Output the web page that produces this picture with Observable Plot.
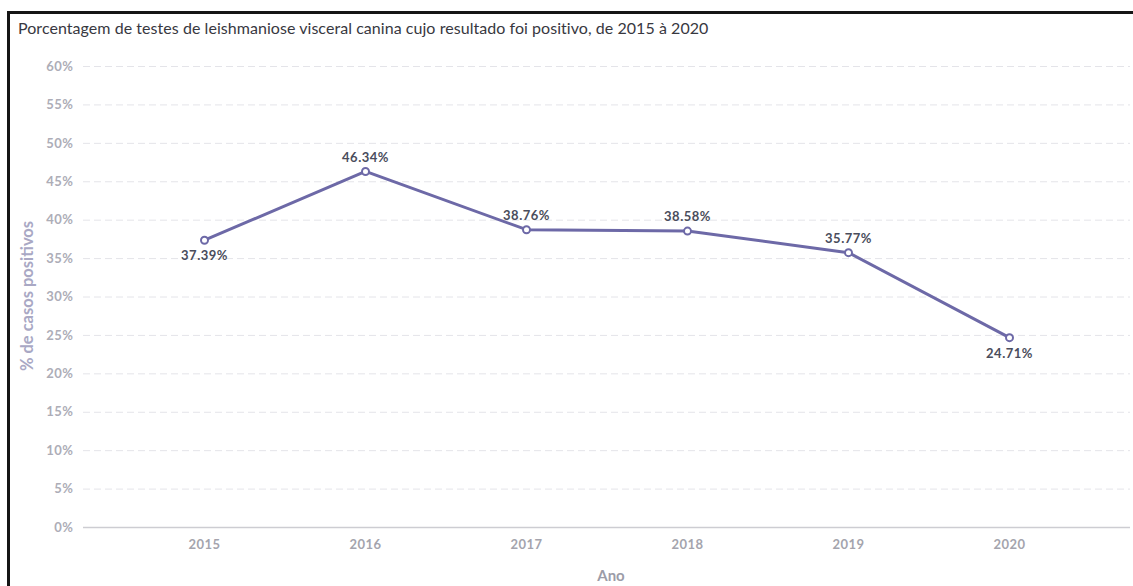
<!DOCTYPE html>
<html><head><meta charset="utf-8">
<script src="https://cdn.jsdelivr.net/npm/d3@7"></script>
<script src="https://cdn.jsdelivr.net/npm/@observablehq/plot@0.6"></script>
<style>
body{margin:0;background:#fff;font-family:Lato,sans-serif;}
#wrap{position:relative;width:1133px;height:586px;overflow:hidden;background:#fff;}
#frame{position:absolute;left:7px;top:11px;width:1140px;height:600px;border-left:3px solid #151515;border-top:3px solid #151515;}
#title{position:absolute;left:18px;top:18px;font-size:16px;color:#38383f;white-space:nowrap;letter-spacing:0.05px;}
#ytitle{position:absolute;left:27px;top:296px;transform:translate(-50%,-50%) rotate(-90deg);font-size:16.5px;font-weight:bold;color:#a9a8c4;white-space:nowrap;}
#xtitle{position:absolute;left:611px;top:575px;transform:translate(-50%,-50%);font-size:15px;font-weight:bold;color:#9c9ca8;white-space:nowrap;}
#chart{position:absolute;left:0;top:0;}
#chart svg text{letter-spacing:0.5px;}
</style></head>
<body>
<div id="wrap">
  <div id="chart"></div>
  <div id="frame"></div>
  <div id="title">Porcentagem de testes de leishmaniose visceral canina cujo resultado foi positivo, de 2015 à 2020</div>
  <div id="ytitle">% de casos positivos</div>
  <div id="xtitle">Ano</div>
</div>
<script>
const years = ["2015", "2016", "2017", "2018", "2019", "2020"];
const values = [37.39, 46.34, 38.76, 38.58, 35.77, 24.71];
const yTicks = [0, 5, 10, 15, 20, 25, 30, 35, 40, 45, 50, 55, 60];

const data = years.map((year, i) => ({year, value: values[i]}));
// a label goes below its point when the point is lower than all its neighbours
data.forEach((d, i) => {
  const nb = [values[i - 1], values[i + 1]].filter(v => v !== undefined);
  d.below = nb.every(v => d.value < v);
});
const lineColor = "#6d69a7";
const labelOpts = {x: "year", y: "value", text: d => d.value.toFixed(2) + "%", fill: "#4a4d5c", fontWeight: "bold", fontSize: 13};

const chart = Plot.plot({
  width: 1133, height: 586,
  marginTop: 66, marginBottom: 59, marginLeft: 83, marginRight: 3,
  style: {fontFamily: "Lato, sans-serif", background: "transparent", overflow: "visible"},
  x: {type: "point", domain: years, padding: 0.75, label: null},
  y: {domain: [0, 60], label: null},
  marks: [
    Plot.gridY(yTicks.filter(t => t > 0), {stroke: "#e4e4e9", strokeOpacity: 1, strokeDasharray: "7,4"}),
    Plot.axisY(yTicks, {tickSize: 0, tickPadding: 10, tickFormat: d => d + "%", fill: "#adadb7", fontWeight: "bold", fontSize: 13, label: null}),
    Plot.axisX({tickSize: 0, tickPadding: 12, fill: "#a4a4ad", fontWeight: "bold", fontSize: 13, label: null}),
    Plot.ruleY([0], {stroke: "#cdcdd2", strokeWidth: 1.5}),
    Plot.line(data, {x: "year", y: "value", stroke: lineColor, strokeWidth: 3}),
    Plot.dot(data, {x: "year", y: "value", r: 3.5, fill: "white", stroke: lineColor, strokeWidth: 2}),
    Plot.text(data.filter(d => !d.below), {...labelOpts, dy: -14}),
    Plot.text(data.filter(d => d.below), {...labelOpts, dy: 16})
  ]
});
document.getElementById("chart").append(chart);
</script>
</body></html>
